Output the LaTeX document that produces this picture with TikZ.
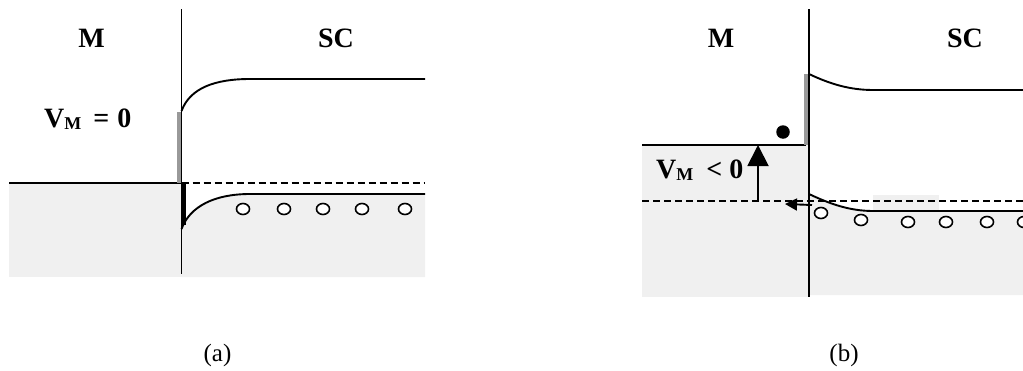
\documentclass[tikz,border=0pt]{standalone}
\usepackage{fontspec}
\setmainfont{Liberation Serif}
\usetikzlibrary{arrows.meta,shapes.geometric}
\definecolor{fillgray}{HTML}{F0F0F0}
\definecolor{bargray}{HTML}{999999}
\begin{document}
\begin{tikzpicture}[x=1pt,y=-1pt,
  band/.style={line width=1.9pt},
  dashedline/.style={line width=1.9pt, dash pattern=on 7pt off 4pt},
  hole/.style={draw, ellipse, line width=1.6pt, fill=white, minimum width=13pt, minimum height=11pt, inner sep=0pt},
  bigtxt/.style={font=\fontsize{28}{32}\selectfont\bfseries, inner sep=0pt},
  caption/.style={font=\fontsize{25}{30}\selectfont, inner sep=0pt}]
\useasboundingbox (0,0) rectangle (1023,370);
% ---------- panel (a) ----------
\fill[fillgray] (9,183) rectangle (181.5,277);
\fill[fillgray] (181.5,229) .. controls (190,206) and (215,194) .. (250,194) -- (425,194) -- (425,277) -- (181.5,277) -- cycle;
\coordinate (aFl) at (9,183);
\coordinate (aFi) at (181.5,183);
\coordinate (aFr) at (425,183);
\draw[band] (aFl) -- (aFi);
\draw[dashedline] (aFi) -- (aFr);
\fill[bargray] (177,112) rectangle (182,183);
\fill[black] (181,183) rectangle (186,225);
\coordinate (aTop) at (181.5,9);
\coordinate (aBot) at (181.5,274);
\draw[band] (aTop) -- (aBot);
\draw[band] (181.5,111) .. controls (190,88) and (215,79) .. (250,79) -- (425,79);
\draw[band] (181.5,229) .. controls (190,206) and (215,194) .. (250,194) -- (425,194);
\node[hole] (ah1) at (243,209) {};
\node[hole] (ah2) at (284,209) {};
\node[hole] (ah3) at (323,209) {};
\node[hole] (ah4) at (362,209) {};
\node[hole] (ah5) at (405,209) {};
\node[bigtxt] (aM) at (91.5,38) {M};
\node[bigtxt] (aSC) at (336,38) {SC};
\node[bigtxt, anchor=base west] (aV) at (44,127.5) {V{\fontsize{18}{20}\selectfont\raisebox{-2pt}{M}}\hspace{12pt}=\hspace{8pt}0};
\node[caption] (acap) at (217.5,355) {(a)};
% ---------- panel (b) ----------
\fill[fillgray] (642,145) rectangle (809,297);
\fill[fillgray] (809,194) .. controls (830,204) and (850,211) .. (873,211) -- (1023,211) -- (1023,295) -- (809,295) -- cycle;
\fill[fillgray] (873,195) rectangle (939,211);
\coordinate (bMl) at (642,145);
\coordinate (bMr) at (806,145);
\draw[band] (bMl) -- (bMr);
\fill[bargray] (804,74) rectangle (808.5,145);
\coordinate (bFl) at (642,201);
\coordinate (bFr) at (1023,201);
\draw[dashedline] (bFl) -- (bFr);
\coordinate (bTop) at (809,9);
\coordinate (bBot) at (809,297);
\draw[band] (bTop) -- (bBot);
\draw[band] (809,74) .. controls (830,84) and (850,90) .. (873,90) -- (1023,90);
\draw[band] (809,194) .. controls (830,204) and (850,211) .. (873,211) -- (1023,211);
\coordinate (vA) at (758,201);
\coordinate (vB) at (758,145);
\draw[band, -{Triangle[length=21pt,width=21pt]}] (vA) -- (vB);
\coordinate (hA) at (812,205);
\coordinate (hB) at (785,204);
\draw[band, -{Triangle[length=12pt,width=12pt]}] (hA) -- (hB);
\node[circle, fill=black, minimum size=13.5pt, inner sep=0pt] (elec) at (783,132) {};
\node[hole] (bh1) at (821,213) {};
\node[hole] (bh2) at (861,220) {};
\node[hole] (bh3) at (908,222) {};
\node[hole] (bh4) at (946,222) {};
\node[hole] (bh5) at (987,222) {};
\node[hole] (bh6) at (1024,222) {};
\node[bigtxt] (bM) at (721,38) {M};
\node[bigtxt] (bSC) at (965,38) {SC};
\node[bigtxt, anchor=base west] (bV) at (656,178) {V{\fontsize{18}{20}\selectfont\raisebox{-2pt}{M}}\hspace{13pt}<\hspace{7pt}0};
\node[caption] (bcap) at (844,355) {(b)};
\end{tikzpicture}
\end{document}
